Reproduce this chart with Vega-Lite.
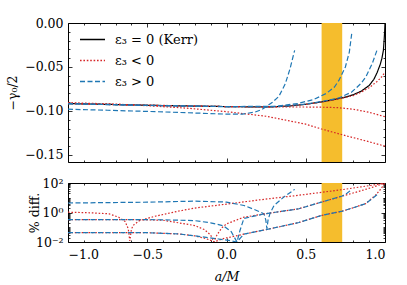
{
  "$schema": "https://vega.github.io/schema/vega-lite/v6.json",
  "padding": {"left": 6, "top": 16, "right": 5, "bottom": 0},
  "background": "white",
  "spacing": 21,
  "bounds": "flush",
  "resolve": {"scale": {"color": "independent", "strokeDash": "independent"}, "legend": {"color": "independent", "strokeDash": "independent"}},
  "datasets": {
    "top": [
      {"id": "K", "type": "ε₃ = 0 (Kerr)", "a": -1, "v": -0.0915},
      {"id": "K", "type": "ε₃ = 0 (Kerr)", "a": -0.75, "v": -0.0925},
      {"id": "K", "type": "ε₃ = 0 (Kerr)", "a": -0.5, "v": -0.0935},
      {"id": "K", "type": "ε₃ = 0 (Kerr)", "a": -0.25, "v": -0.0943},
      {"id": "K", "type": "ε₃ = 0 (Kerr)", "a": 0, "v": -0.095},
      {"id": "K", "type": "ε₃ = 0 (Kerr)", "a": 0.2, "v": -0.0954},
      {"id": "K", "type": "ε₃ = 0 (Kerr)", "a": 0.3, "v": -0.0952},
      {"id": "K", "type": "ε₃ = 0 (Kerr)", "a": 0.4, "v": -0.0943},
      {"id": "K", "type": "ε₃ = 0 (Kerr)", "a": 0.5, "v": -0.0924},
      {"id": "K", "type": "ε₃ = 0 (Kerr)", "a": 0.6, "v": -0.0897},
      {"id": "K", "type": "ε₃ = 0 (Kerr)", "a": 0.7, "v": -0.0862},
      {"id": "K", "type": "ε₃ = 0 (Kerr)", "a": 0.75, "v": -0.0843},
      {"id": "K", "type": "ε₃ = 0 (Kerr)", "a": 0.8, "v": -0.0815},
      {"id": "K", "type": "ε₃ = 0 (Kerr)", "a": 0.85, "v": -0.0775},
      {"id": "K", "type": "ε₃ = 0 (Kerr)", "a": 0.9, "v": -0.071},
      {"id": "K", "type": "ε₃ = 0 (Kerr)", "a": 0.93, "v": -0.064},
      {"id": "K", "type": "ε₃ = 0 (Kerr)", "a": 0.95, "v": -0.0565},
      {"id": "K", "type": "ε₃ = 0 (Kerr)", "a": 0.97, "v": -0.047},
      {"id": "K", "type": "ε₃ = 0 (Kerr)", "a": 0.98, "v": -0.0405},
      {"id": "K", "type": "ε₃ = 0 (Kerr)", "a": 0.99, "v": -0.031},
      {"id": "K", "type": "ε₃ = 0 (Kerr)", "a": 0.995, "v": -0.018},
      {"id": "K", "type": "ε₃ = 0 (Kerr)", "a": 0.998, "v": -0.009},
      {"id": "K", "type": "ε₃ = 0 (Kerr)", "a": 1, "v": 0},
      {"id": "R1", "type": "ε₃ < 0", "a": -1, "v": -0.0905},
      {"id": "R1", "type": "ε₃ < 0", "a": -0.75, "v": -0.0919},
      {"id": "R1", "type": "ε₃ < 0", "a": -0.6, "v": -0.093},
      {"id": "R1", "type": "ε₃ < 0", "a": -0.5, "v": -0.094},
      {"id": "R1", "type": "ε₃ < 0", "a": -0.25, "v": -0.0968},
      {"id": "R1", "type": "ε₃ < 0", "a": 0, "v": -0.1008},
      {"id": "R1", "type": "ε₃ < 0", "a": 0.25, "v": -0.106},
      {"id": "R1", "type": "ε₃ < 0", "a": 0.5, "v": -0.115},
      {"id": "R1", "type": "ε₃ < 0", "a": 0.6, "v": -0.1205},
      {"id": "R1", "type": "ε₃ < 0", "a": 0.75, "v": -0.128},
      {"id": "R1", "type": "ε₃ < 0", "a": 0.9, "v": -0.135},
      {"id": "R1", "type": "ε₃ < 0", "a": 1, "v": -0.14},
      {"id": "R2", "type": "ε₃ < 0", "a": -1, "v": -0.0912},
      {"id": "R2", "type": "ε₃ < 0", "a": -0.5, "v": -0.0933},
      {"id": "R2", "type": "ε₃ < 0", "a": 0, "v": -0.095},
      {"id": "R2", "type": "ε₃ < 0", "a": 0.3, "v": -0.0955},
      {"id": "R2", "type": "ε₃ < 0", "a": 0.5, "v": -0.0955},
      {"id": "R2", "type": "ε₃ < 0", "a": 0.6, "v": -0.0957},
      {"id": "R2", "type": "ε₃ < 0", "a": 0.7, "v": -0.0962},
      {"id": "R2", "type": "ε₃ < 0", "a": 0.8, "v": -0.098},
      {"id": "R2", "type": "ε₃ < 0", "a": 0.9, "v": -0.1015},
      {"id": "R2", "type": "ε₃ < 0", "a": 1, "v": -0.1065},
      {"id": "R3", "type": "ε₃ < 0", "a": -1, "v": -0.0917},
      {"id": "R3", "type": "ε₃ < 0", "a": -0.5, "v": -0.0936},
      {"id": "R3", "type": "ε₃ < 0", "a": 0, "v": -0.095},
      {"id": "R3", "type": "ε₃ < 0", "a": 0.3, "v": -0.0953},
      {"id": "R3", "type": "ε₃ < 0", "a": 0.5, "v": -0.0925},
      {"id": "R3", "type": "ε₃ < 0", "a": 0.6, "v": -0.0899},
      {"id": "R3", "type": "ε₃ < 0", "a": 0.7, "v": -0.0866},
      {"id": "R3", "type": "ε₃ < 0", "a": 0.8, "v": -0.0825},
      {"id": "R3", "type": "ε₃ < 0", "a": 0.85, "v": -0.0785},
      {"id": "R3", "type": "ε₃ < 0", "a": 0.9, "v": -0.0735},
      {"id": "R3", "type": "ε₃ < 0", "a": 0.95, "v": -0.0665},
      {"id": "R3", "type": "ε₃ < 0", "a": 0.98, "v": -0.061},
      {"id": "R3", "type": "ε₃ < 0", "a": 1, "v": -0.056},
      {"id": "B1", "type": "ε₃ > 0", "a": -1, "v": -0.098},
      {"id": "B1", "type": "ε₃ > 0", "a": -0.75, "v": -0.0992},
      {"id": "B1", "type": "ε₃ > 0", "a": -0.5, "v": -0.1005},
      {"id": "B1", "type": "ε₃ > 0", "a": -0.25, "v": -0.102},
      {"id": "B1", "type": "ε₃ > 0", "a": 0, "v": -0.1036},
      {"id": "B1", "type": "ε₃ > 0", "a": 0.1, "v": -0.1036},
      {"id": "B1", "type": "ε₃ > 0", "a": 0.18, "v": -0.1012},
      {"id": "B1", "type": "ε₃ > 0", "a": 0.22, "v": -0.0985},
      {"id": "B1", "type": "ε₃ > 0", "a": 0.25, "v": -0.0952},
      {"id": "B1", "type": "ε₃ > 0", "a": 0.29, "v": -0.09},
      {"id": "B1", "type": "ε₃ > 0", "a": 0.33, "v": -0.0835},
      {"id": "B1", "type": "ε₃ > 0", "a": 0.37, "v": -0.0695},
      {"id": "B1", "type": "ε₃ > 0", "a": 0.4, "v": -0.0525},
      {"id": "B1", "type": "ε₃ > 0", "a": 0.43, "v": -0.031},
      {"id": "B2", "type": "ε₃ > 0", "a": -1, "v": -0.0918},
      {"id": "B2", "type": "ε₃ > 0", "a": -0.5, "v": -0.0937},
      {"id": "B2", "type": "ε₃ > 0", "a": 0, "v": -0.0951},
      {"id": "B2", "type": "ε₃ > 0", "a": 0.3, "v": -0.095},
      {"id": "B2", "type": "ε₃ > 0", "a": 0.45, "v": -0.0915},
      {"id": "B2", "type": "ε₃ > 0", "a": 0.55, "v": -0.087},
      {"id": "B2", "type": "ε₃ > 0", "a": 0.63, "v": -0.08},
      {"id": "B2", "type": "ε₃ > 0", "a": 0.68, "v": -0.073},
      {"id": "B2", "type": "ε₃ > 0", "a": 0.71, "v": -0.065},
      {"id": "B2", "type": "ε₃ > 0", "a": 0.75, "v": -0.05},
      {"id": "B2", "type": "ε₃ > 0", "a": 0.775, "v": -0.033},
      {"id": "B2", "type": "ε₃ > 0", "a": 0.79, "v": -0.012},
      {"id": "B3", "type": "ε₃ > 0", "a": -1, "v": -0.0917},
      {"id": "B3", "type": "ε₃ > 0", "a": -0.5, "v": -0.0936},
      {"id": "B3", "type": "ε₃ > 0", "a": 0, "v": -0.095},
      {"id": "B3", "type": "ε₃ > 0", "a": 0.35, "v": -0.0946},
      {"id": "B3", "type": "ε₃ > 0", "a": 0.5, "v": -0.0921},
      {"id": "B3", "type": "ε₃ > 0", "a": 0.56, "v": -0.0905},
      {"id": "B3", "type": "ε₃ > 0", "a": 0.65, "v": -0.0875},
      {"id": "B3", "type": "ε₃ > 0", "a": 0.71, "v": -0.0852},
      {"id": "B3", "type": "ε₃ > 0", "a": 0.79, "v": -0.0785},
      {"id": "B3", "type": "ε₃ > 0", "a": 0.85, "v": -0.0685},
      {"id": "B3", "type": "ε₃ > 0", "a": 0.88, "v": -0.061},
      {"id": "B3", "type": "ε₃ > 0", "a": 0.92, "v": -0.0458},
      {"id": "B3", "type": "ε₃ > 0", "a": 0.95, "v": -0.0307}
    ],
    "bot": [
      {"id": "R1", "type": "ε₃ < 0", "a": -1, "p": 1.05},
      {"id": "R1", "type": "ε₃ < 0", "a": -0.85, "p": 0.95},
      {"id": "R1", "type": "ε₃ < 0", "a": -0.74, "p": 0.81},
      {"id": "R1", "type": "ε₃ < 0", "a": -0.68, "p": 0.48},
      {"id": "R1", "type": "ε₃ < 0", "a": -0.64, "p": 0.25},
      {"id": "R1", "type": "ε₃ < 0", "a": -0.62, "p": 0.08},
      {"id": "R1", "type": "ε₃ < 0", "a": -0.61, "p": 0.012},
      {"id": "R1", "type": "ε₃ < 0", "a": -0.6, "p": 0.07},
      {"id": "R1", "type": "ε₃ < 0", "a": -0.59, "p": 0.13},
      {"id": "R1", "type": "ε₃ < 0", "a": -0.55, "p": 0.28},
      {"id": "R1", "type": "ε₃ < 0", "a": -0.45, "p": 0.56},
      {"id": "R1", "type": "ε₃ < 0", "a": -0.3, "p": 1.26},
      {"id": "R1", "type": "ε₃ < 0", "a": -0.2, "p": 2.0},
      {"id": "R1", "type": "ε₃ < 0", "a": 0, "p": 3.7},
      {"id": "R1", "type": "ε₃ < 0", "a": 0.2, "p": 7.0},
      {"id": "R1", "type": "ε₃ < 0", "a": 0.457, "p": 14.8},
      {"id": "R1", "type": "ε₃ < 0", "a": 0.6, "p": 23.4},
      {"id": "R1", "type": "ε₃ < 0", "a": 0.73, "p": 35.5},
      {"id": "R1", "type": "ε₃ < 0", "a": 0.85, "p": 55},
      {"id": "R1", "type": "ε₃ < 0", "a": 0.95, "p": 80},
      {"id": "R1", "type": "ε₃ < 0", "a": 1, "p": 100},
      {"id": "B1", "type": "ε₃ > 0", "a": -1, "p": 4.4},
      {"id": "B1", "type": "ε₃ > 0", "a": -0.5, "p": 5.0},
      {"id": "B1", "type": "ε₃ > 0", "a": -0.2, "p": 5.9},
      {"id": "B1", "type": "ε₃ > 0", "a": 0, "p": 5.1},
      {"id": "B1", "type": "ε₃ > 0", "a": 0.11, "p": 3.0},
      {"id": "B1", "type": "ε₃ > 0", "a": 0.19, "p": 1.38},
      {"id": "B1", "type": "ε₃ > 0", "a": 0.237, "p": 0.81},
      {"id": "B1", "type": "ε₃ > 0", "a": 0.248, "p": 0.3},
      {"id": "B1", "type": "ε₃ > 0", "a": 0.255, "p": 0.08},
      {"id": "B1", "type": "ε₃ > 0", "a": 0.262, "p": 0.3},
      {"id": "B1", "type": "ε₃ > 0", "a": 0.275, "p": 0.9},
      {"id": "B1", "type": "ε₃ > 0", "a": 0.3, "p": 3.0},
      {"id": "B1", "type": "ε₃ > 0", "a": 0.363, "p": 11.5},
      {"id": "B1", "type": "ε₃ > 0", "a": 0.43, "p": 37},
      {"id": "R2", "type": "ε₃ < 0", "a": -1, "p": 0.33},
      {"id": "R2", "type": "ε₃ < 0", "a": -0.6, "p": 0.33},
      {"id": "R2", "type": "ε₃ < 0", "a": -0.4, "p": 0.3},
      {"id": "R2", "type": "ε₃ < 0", "a": -0.2, "p": 0.13},
      {"id": "R2", "type": "ε₃ < 0", "a": -0.14, "p": 0.07},
      {"id": "R2", "type": "ε₃ < 0", "a": -0.1, "p": 0.03},
      {"id": "R2", "type": "ε₃ < 0", "a": -0.08, "p": 0.01},
      {"id": "R2", "type": "ε₃ < 0", "a": -0.06, "p": 0.03},
      {"id": "R2", "type": "ε₃ < 0", "a": -0.03, "p": 0.09},
      {"id": "R2", "type": "ε₃ < 0", "a": 0, "p": 0.17},
      {"id": "R2", "type": "ε₃ < 0", "a": 0.11, "p": 0.48},
      {"id": "R2", "type": "ε₃ < 0", "a": 0.24, "p": 0.81},
      {"id": "R2", "type": "ε₃ < 0", "a": 0.457, "p": 1.8},
      {"id": "R2", "type": "ε₃ < 0", "a": 0.6, "p": 5.1},
      {"id": "R2", "type": "ε₃ < 0", "a": 0.73, "p": 13},
      {"id": "R2", "type": "ε₃ < 0", "a": 0.85, "p": 30},
      {"id": "R2", "type": "ε₃ < 0", "a": 0.93, "p": 55},
      {"id": "R2", "type": "ε₃ < 0", "a": 1, "p": 100},
      {"id": "B2", "type": "ε₃ > 0", "a": -1, "p": 0.33},
      {"id": "B2", "type": "ε₃ > 0", "a": -0.6, "p": 0.33},
      {"id": "B2", "type": "ε₃ > 0", "a": -0.4, "p": 0.32},
      {"id": "B2", "type": "ε₃ > 0", "a": -0.2, "p": 0.28},
      {"id": "B2", "type": "ε₃ > 0", "a": -0.1, "p": 0.2},
      {"id": "B2", "type": "ε₃ > 0", "a": -0.02, "p": 0.126},
      {"id": "B2", "type": "ε₃ > 0", "a": 0.03, "p": 0.05},
      {"id": "B2", "type": "ε₃ > 0", "a": 0.066, "p": 0.01},
      {"id": "B2", "type": "ε₃ > 0", "a": 0.085, "p": 0.06},
      {"id": "B2", "type": "ε₃ > 0", "a": 0.11, "p": 0.4},
      {"id": "B2", "type": "ε₃ > 0", "a": 0.24, "p": 0.81},
      {"id": "B2", "type": "ε₃ > 0", "a": 0.457, "p": 1.8},
      {"id": "B2", "type": "ε₃ > 0", "a": 0.6, "p": 5.1},
      {"id": "B2", "type": "ε₃ > 0", "a": 0.73, "p": 13},
      {"id": "B2", "type": "ε₃ > 0", "a": 0.76, "p": 20},
      {"id": "B2", "type": "ε₃ > 0", "a": 0.79, "p": 36},
      {"id": "R3", "type": "ε₃ < 0", "a": -1, "p": 0.043},
      {"id": "R3", "type": "ε₃ < 0", "a": -0.5, "p": 0.043},
      {"id": "R3", "type": "ε₃ < 0", "a": -0.3, "p": 0.035},
      {"id": "R3", "type": "ε₃ < 0", "a": -0.2, "p": 0.026},
      {"id": "R3", "type": "ε₃ < 0", "a": -0.13, "p": 0.017},
      {"id": "R3", "type": "ε₃ < 0", "a": -0.1, "p": 0.013},
      {"id": "R3", "type": "ε₃ < 0", "a": -0.08, "p": 0.01},
      {"id": "R3", "type": "ε₃ < 0", "a": -0.06, "p": 0.012},
      {"id": "R3", "type": "ε₃ < 0", "a": -0.02, "p": 0.017},
      {"id": "R3", "type": "ε₃ < 0", "a": 0.11, "p": 0.034},
      {"id": "R3", "type": "ε₃ < 0", "a": 0.3, "p": 0.09},
      {"id": "R3", "type": "ε₃ < 0", "a": 0.457, "p": 0.21},
      {"id": "R3", "type": "ε₃ < 0", "a": 0.6, "p": 0.63},
      {"id": "R3", "type": "ε₃ < 0", "a": 0.73, "p": 1.23},
      {"id": "R3", "type": "ε₃ < 0", "a": 0.8, "p": 2.1},
      {"id": "R3", "type": "ε₃ < 0", "a": 0.878, "p": 4.0},
      {"id": "R3", "type": "ε₃ < 0", "a": 0.94, "p": 14.8},
      {"id": "R3", "type": "ε₃ < 0", "a": 0.97, "p": 35},
      {"id": "R3", "type": "ε₃ < 0", "a": 1, "p": 100},
      {"id": "B3", "type": "ε₃ > 0", "a": -1, "p": 0.043},
      {"id": "B3", "type": "ε₃ > 0", "a": -0.5, "p": 0.043},
      {"id": "B3", "type": "ε₃ > 0", "a": -0.3, "p": 0.035},
      {"id": "B3", "type": "ε₃ > 0", "a": -0.2, "p": 0.026},
      {"id": "B3", "type": "ε₃ > 0", "a": -0.05, "p": 0.016},
      {"id": "B3", "type": "ε₃ > 0", "a": 0.03, "p": 0.012},
      {"id": "B3", "type": "ε₃ > 0", "a": 0.066, "p": 0.01},
      {"id": "B3", "type": "ε₃ > 0", "a": 0.09, "p": 0.02},
      {"id": "B3", "type": "ε₃ > 0", "a": 0.11, "p": 0.034},
      {"id": "B3", "type": "ε₃ > 0", "a": 0.3, "p": 0.09},
      {"id": "B3", "type": "ε₃ > 0", "a": 0.457, "p": 0.21},
      {"id": "B3", "type": "ε₃ > 0", "a": 0.6, "p": 0.63},
      {"id": "B3", "type": "ε₃ > 0", "a": 0.73, "p": 1.23},
      {"id": "B3", "type": "ε₃ > 0", "a": 0.8, "p": 2.1},
      {"id": "B3", "type": "ε₃ > 0", "a": 0.878, "p": 4.0},
      {"id": "B3", "type": "ε₃ > 0", "a": 0.95, "p": 16}
    ]
  },
  "vconcat": [
    {
      "width": 317,
      "height": 139,
      "resolve": {"axis": {"x": "independent", "y": "independent"}},
      "layer": [
        {
          "data": {"values": [{"s": 0.6, "e": 0.73}]},
          "mark": {"type": "rect", "color": "#f5bd2d"},
          "encoding": {
            "x": {"field": "s", "type": "quantitative", "scale": {"domain": [-1, 1], "nice": false, "zero": false}, "axis": null},
            "x2": {"field": "e"}
          }
        },
        {
          "data": {"name": "top"},
          "mark": {"type": "line", "strokeWidth": 1.2, "clip": true},
          "encoding": {
            "x": {"field": "a", "type": "quantitative", "scale": {"domain": [-1, 1], "nice": false, "zero": false}, "axis": null},
            "y": {"field": "v", "type": "quantitative", "scale": {"domain": [-0.158, 0], "nice": false, "zero": false}, "axis": null},
            "detail": {"field": "id"},
            "color": {"field": "type", "type": "nominal",
              "scale": {"domain": ["ε₃ = 0 (Kerr)", "ε₃ < 0", "ε₃ > 0"], "range": ["#000000", "#d62728", "#1f77b4"]},
              "legend": {"orient": "none", "legendX": 11, "legendY": 3, "title": null, "symbolType": "stroke", "symbolSize": 625, "symbolStrokeWidth": 1.3, "labelFont": "DejaVu Serif", "labelFontSize": 13, "labelColor": "black", "labelOffset": 9, "rowPadding": -5, "padding": 0, "labelLimit": 300}},
            "strokeDash": {"field": "type", "type": "nominal",
              "scale": {"domain": ["ε₃ = 0 (Kerr)", "ε₃ < 0", "ε₃ > 0"], "range": [[1, 0], [1.6, 1.8], [5, 2.5]]},
              "legend": {"orient": "none", "legendX": 11, "legendY": 3, "title": null, "symbolType": "stroke", "symbolSize": 625, "symbolStrokeWidth": 1.3, "labelFont": "DejaVu Serif", "labelFontSize": 13, "labelColor": "black", "labelOffset": 9, "rowPadding": -5, "padding": 0, "labelLimit": 300}}
          }
        },
        {
          "data": {"name": "top"},
          "mark": {"type": "point", "opacity": 0},
          "encoding": {
            "x": {"field": "a", "type": "quantitative", "scale": {"domain": [-1, 1], "nice": false, "zero": false},
              "axis": {"orient": "bottom", "values": [-1, -0.5, 0, 0.5, 1], "labels": false, "tickSize": -4, "title": null}},
            "y": {"field": "v", "type": "quantitative", "scale": {"domain": [-0.158, 0], "nice": false, "zero": false},
              "axis": {"orient": "left", "values": [0, -0.05, -0.1, -0.15], "format": ".2f", "tickSize": -4, "labelPadding": 9, "title": "−γ₀/2", "titlePadding": 5}}
          }
        },
        {
          "data": {"name": "top"},
          "mark": {"type": "point", "opacity": 0},
          "encoding": {
            "x": {"field": "a", "type": "quantitative", "scale": {"domain": [-1, 1], "nice": false, "zero": false},
              "axis": {"orient": "bottom", "values": [-0.9, -0.8, -0.7, -0.6, -0.4, -0.3, -0.2, -0.1, 0.1, 0.2, 0.3, 0.4, 0.6, 0.7, 0.8, 0.9], "labels": false, "tickSize": -2, "title": null}},
            "y": {"field": "v", "type": "quantitative", "scale": {"domain": [-0.158, 0], "nice": false, "zero": false},
              "axis": {"orient": "left", "values": [-0.01, -0.02, -0.03, -0.04, -0.06, -0.07, -0.08, -0.09, -0.11, -0.12, -0.13, -0.14], "labels": false, "tickSize": -2, "title": null}}
          }
        },
        {
          "data": {"name": "top"},
          "mark": {"type": "point", "opacity": 0},
          "encoding": {
            "x": {"field": "a", "type": "quantitative", "scale": {"domain": [-1, 1], "nice": false, "zero": false},
              "axis": {"orient": "top", "values": [-1, -0.5, 0, 0.5, 1], "labels": false, "tickSize": -4, "title": null}},
            "y": {"field": "v", "type": "quantitative", "scale": {"domain": [-0.158, 0], "nice": false, "zero": false},
              "axis": {"orient": "right", "values": [0, -0.05, -0.1, -0.15], "labels": false, "tickSize": -4, "title": null}}
          }
        },
        {
          "data": {"name": "top"},
          "mark": {"type": "point", "opacity": 0},
          "encoding": {
            "x": {"field": "a", "type": "quantitative", "scale": {"domain": [-1, 1], "nice": false, "zero": false},
              "axis": {"orient": "top", "values": [-0.9, -0.8, -0.7, -0.6, -0.4, -0.3, -0.2, -0.1, 0.1, 0.2, 0.3, 0.4, 0.6, 0.7, 0.8, 0.9], "labels": false, "tickSize": -2, "title": null}},
            "y": {"field": "v", "type": "quantitative", "scale": {"domain": [-0.158, 0], "nice": false, "zero": false},
              "axis": {"orient": "right", "values": [-0.01, -0.02, -0.03, -0.04, -0.06, -0.07, -0.08, -0.09, -0.11, -0.12, -0.13, -0.14], "labels": false, "tickSize": -2, "title": null}}
          }
        }
      ]
    },
    {
      "width": 317,
      "height": 59,
      "resolve": {"axis": {"x": "independent", "y": "independent"}},
      "layer": [
        {
          "data": {"values": [{"s": 0.6, "e": 0.73}]},
          "mark": {"type": "rect", "color": "#f5bd2d"},
          "encoding": {
            "x": {"field": "s", "type": "quantitative", "scale": {"domain": [-1, 1], "nice": false, "zero": false}, "axis": null},
            "x2": {"field": "e"}
          }
        },
        {
          "data": {"name": "bot"},
          "mark": {"type": "line", "strokeWidth": 1.2, "clip": true},
          "encoding": {
            "x": {"field": "a", "type": "quantitative", "scale": {"domain": [-1, 1], "nice": false, "zero": false}, "axis": null},
            "y": {"field": "p", "type": "quantitative", "scale": {"type": "log", "domain": [0.01, 100], "nice": false}, "axis": null},
            "detail": {"field": "id"},
            "color": {"field": "type", "type": "nominal",
              "scale": {"domain": ["ε₃ = 0 (Kerr)", "ε₃ < 0", "ε₃ > 0"], "range": ["#000000", "#d62728", "#1f77b4"]}, "legend": null},
            "strokeDash": {"field": "type", "type": "nominal",
              "scale": {"domain": ["ε₃ = 0 (Kerr)", "ε₃ < 0", "ε₃ > 0"], "range": [[1, 0], [1.6, 1.8], [5, 2.5]]}, "legend": null}
          }
        },
        {
          "data": {"name": "bot"},
          "mark": {"type": "point", "opacity": 0},
          "encoding": {
            "x": {"field": "a", "type": "quantitative", "scale": {"domain": [-1, 1], "nice": false, "zero": false},
              "axis": {"orient": "bottom", "values": [-1, -0.5, 0, 0.5, 1], "format": ".1f", "tickSize": -4, "labelPadding": 10, "title": "a/M", "titleFontStyle": "italic", "titlePadding": 10}},
            "y": {"field": "p", "type": "quantitative", "scale": {"type": "log", "domain": [0.01, 100], "nice": false},
              "axis": {"orient": "left", "values": [0.01, 1, 100], "labelExpr": "datum.value > 50 ? '10²' : datum.value > 0.5 ? '10⁰' : '10⁻²'", "tickSize": -4, "labelPadding": 9, "title": "% diff.", "titlePadding": -6}}
          }
        },
        {
          "data": {"name": "bot"},
          "mark": {"type": "point", "opacity": 0},
          "encoding": {
            "x": {"field": "a", "type": "quantitative", "scale": {"domain": [-1, 1], "nice": false, "zero": false},
              "axis": {"orient": "bottom", "values": [-0.9, -0.8, -0.7, -0.6, -0.4, -0.3, -0.2, -0.1, 0.1, 0.2, 0.3, 0.4, 0.6, 0.7, 0.8, 0.9], "labels": false, "tickSize": -2, "title": null}},
            "y": {"field": "p", "type": "quantitative", "scale": {"type": "log", "domain": [0.01, 100], "nice": false},
              "axis": {"orient": "left", "values": [0.02, 0.03, 0.04, 0.05, 0.06, 0.07, 0.08, 0.09, 0.1, 0.2, 0.3, 0.4, 0.5, 0.6, 0.7, 0.8, 0.9, 2, 3, 4, 5, 6, 7, 8, 9, 10, 20, 30, 40, 50, 60, 70, 80, 90], "labels": false, "tickSize": -2, "title": null}}
          }
        },
        {
          "data": {"name": "bot"},
          "mark": {"type": "point", "opacity": 0},
          "encoding": {
            "x": {"field": "a", "type": "quantitative", "scale": {"domain": [-1, 1], "nice": false, "zero": false},
              "axis": {"orient": "top", "values": [-1, -0.5, 0, 0.5, 1], "labels": false, "tickSize": -4, "title": null}},
            "y": {"field": "p", "type": "quantitative", "scale": {"type": "log", "domain": [0.01, 100], "nice": false},
              "axis": {"orient": "right", "values": [0.01, 1, 100], "labels": false, "tickSize": -4, "title": null}}
          }
        },
        {
          "data": {"name": "bot"},
          "mark": {"type": "point", "opacity": 0},
          "encoding": {
            "x": {"field": "a", "type": "quantitative", "scale": {"domain": [-1, 1], "nice": false, "zero": false},
              "axis": {"orient": "top", "values": [-0.9, -0.8, -0.7, -0.6, -0.4, -0.3, -0.2, -0.1, 0.1, 0.2, 0.3, 0.4, 0.6, 0.7, 0.8, 0.9], "labels": false, "tickSize": -2, "title": null}},
            "y": {"field": "p", "type": "quantitative", "scale": {"type": "log", "domain": [0.01, 100], "nice": false},
              "axis": {"orient": "right", "values": [0.02, 0.03, 0.04, 0.05, 0.06, 0.07, 0.08, 0.09, 0.1, 0.2, 0.3, 0.4, 0.5, 0.6, 0.7, 0.8, 0.9, 2, 3, 4, 5, 6, 7, 8, 9, 10, 20, 30, 40, 50, 60, 70, 80, 90], "labels": false, "tickSize": -2, "title": null}}
          }
        }
      ]
    }
  ],
  "config": {
    "view": {"stroke": "black", "strokeWidth": 1},
    "axis": {"domain": false, "grid": false, "tickColor": "black", "tickWidth": 0.8, "labelFont": "DejaVu Serif", "labelFontSize": 12.5, "labelColor": "black", "titleFont": "DejaVu Serif", "titleFontSize": 12.5, "titleFontWeight": "normal", "titleColor": "black"}
  }
}
